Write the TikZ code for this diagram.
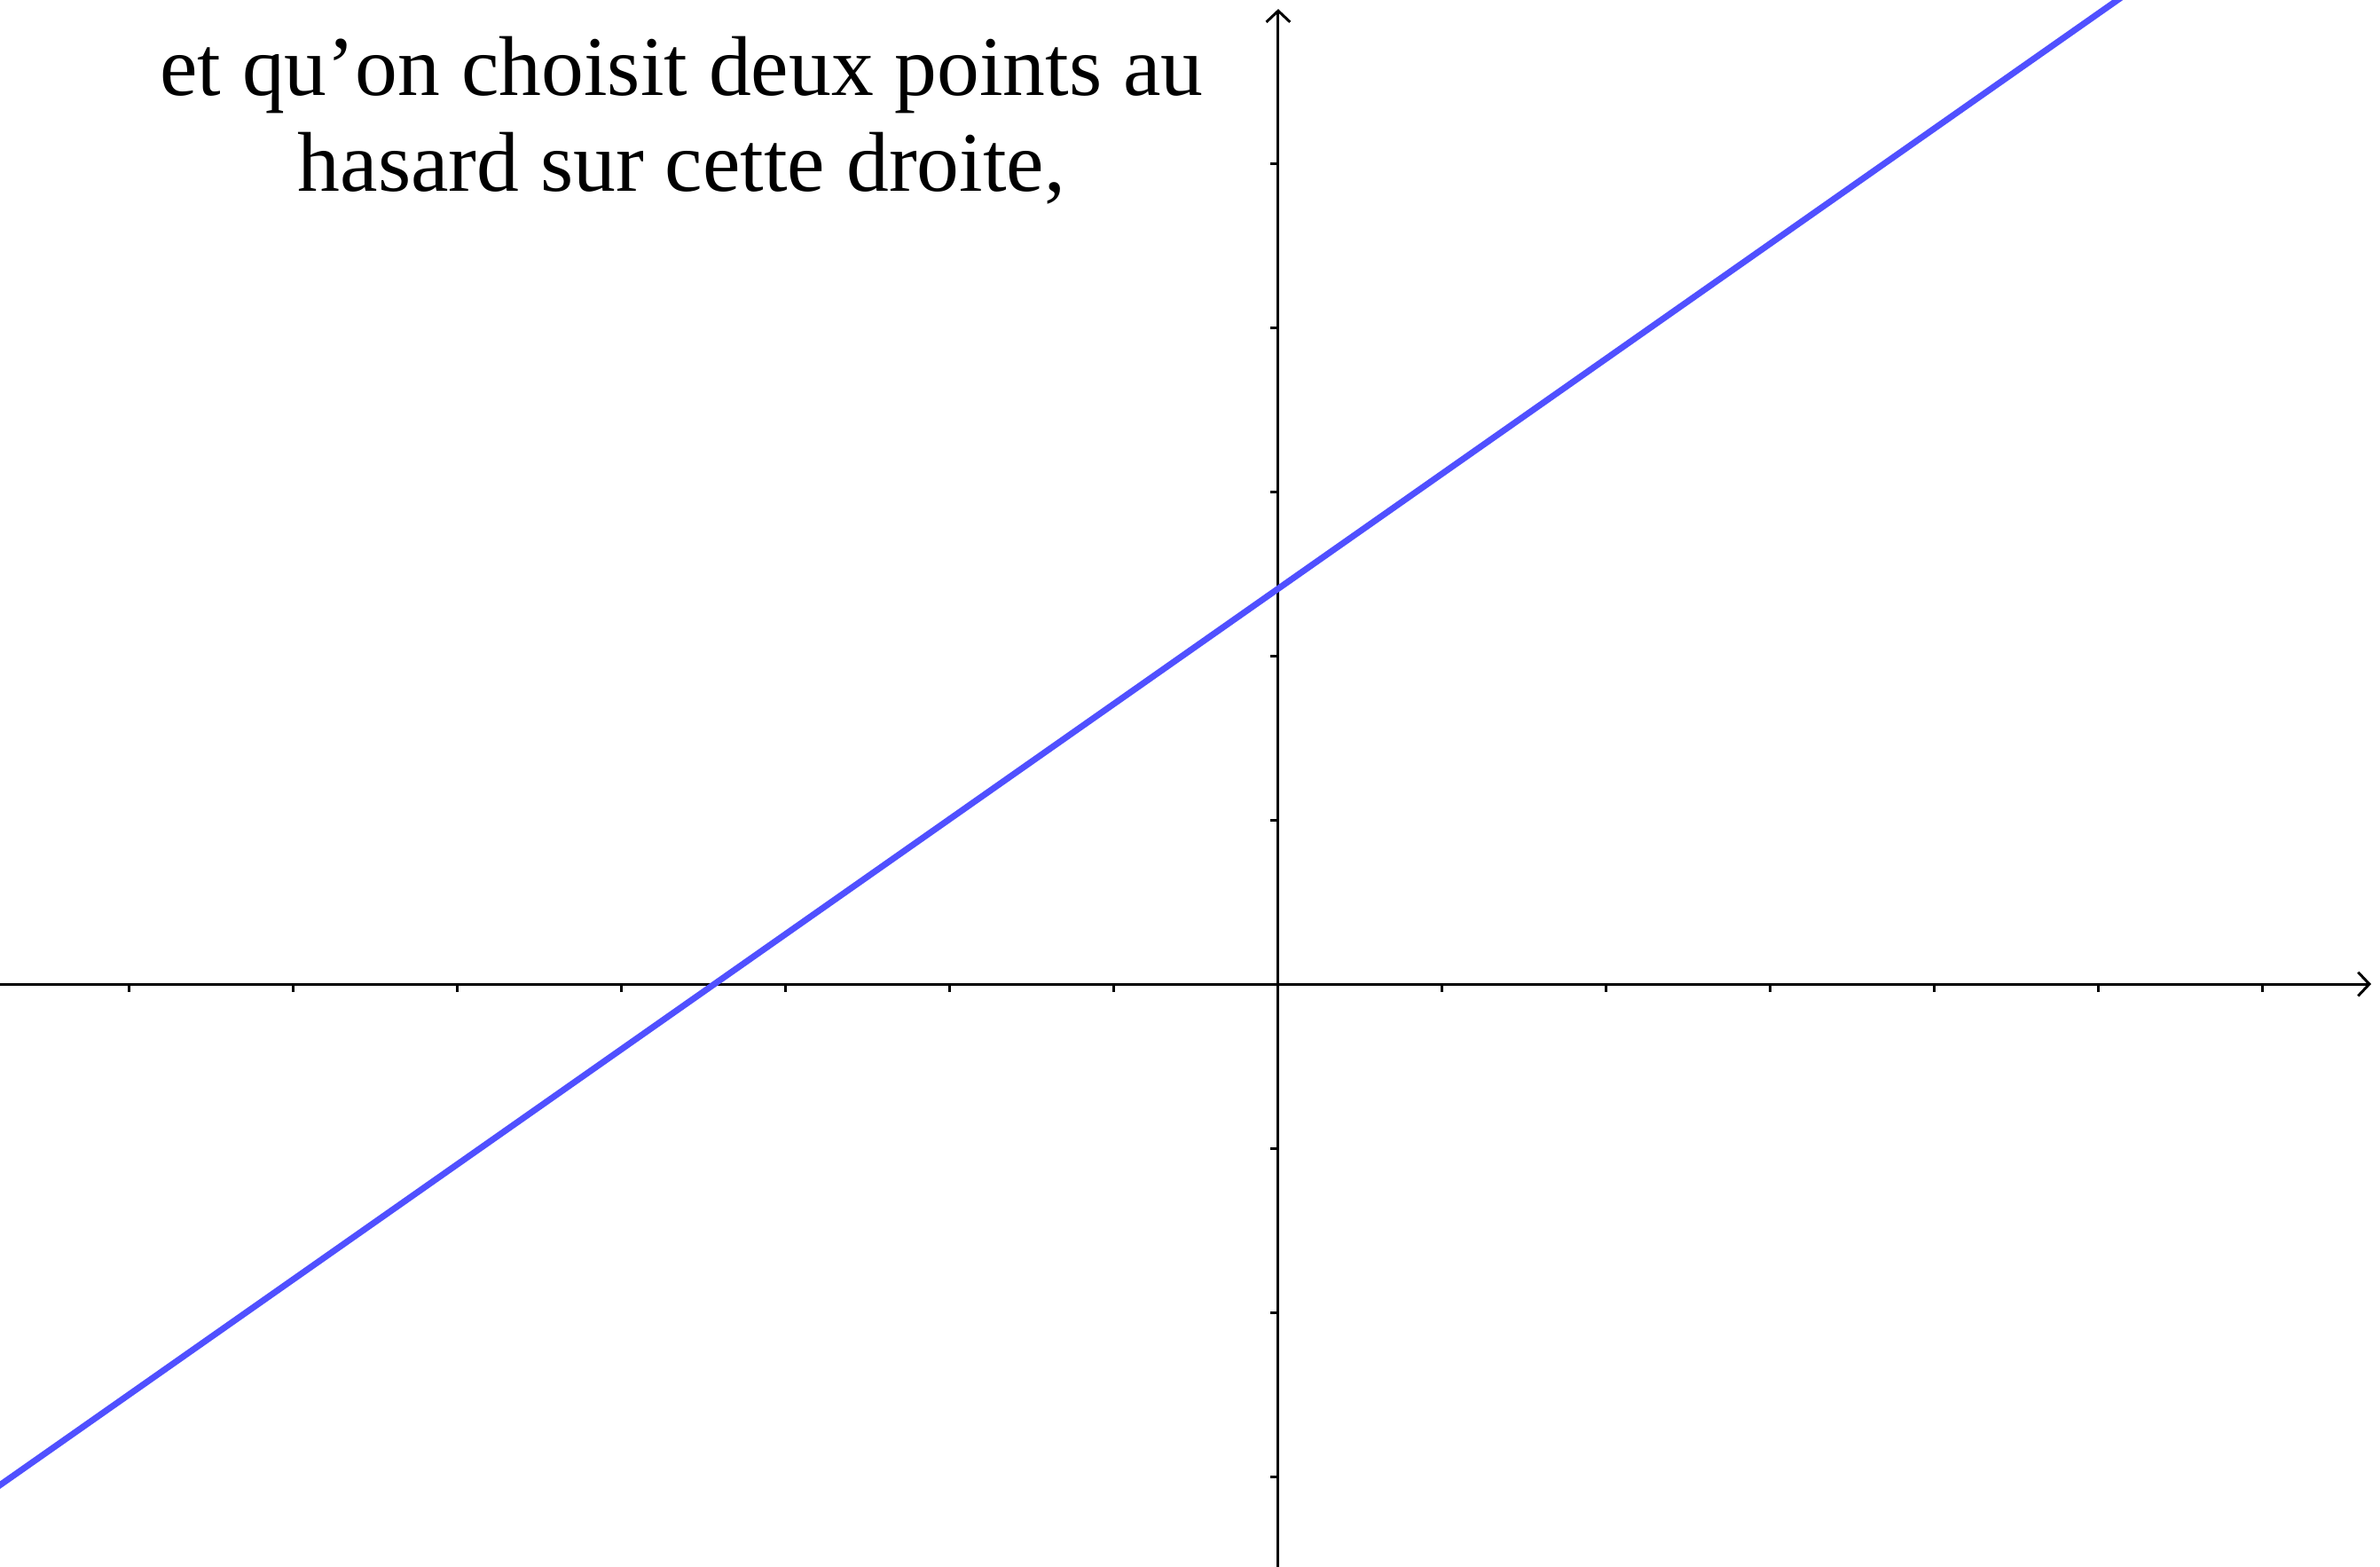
\documentclass[tikz,border=0pt]{standalone}
\usepackage{fontspec}
\setmainfont{Liberation Serif}
\usetikzlibrary{arrows.meta}
\begin{document}
\begin{tikzpicture}[x=1.85cm,y=1.85cm,
  axis/.style={line width=0.85pt,-{Straight Barb[length=3.6pt,width=7.6pt,line width=0.85pt]}},
  tick/.style={line width=0.85pt},
  droite/.style={line width=2pt,color={rgb,255:red,80;green,80;blue,255}},
  caption/.style={font=\fontsize{27.2}{30.7}\selectfont,align=center,inner sep=0pt}]
\useasboundingbox (-7.789,-3.551) rectangle (6.714,5.995);
\coordinate (xs) at (-7.789,0);
\coordinate (xe) at (6.66,0);
\coordinate (ys) at (0,-3.551);
\coordinate (ye) at (0,5.94);
\draw[axis] (xs) -- (xe);
\draw[axis] (ys) -- (ye);
\foreach \i in {-7,...,-1,1,2,...,6} \draw[tick] (\i,0) -- (\i,-0.05);
\foreach \j in {-3,...,-1,1,2,...,5} \draw[tick] (0,\j) -- (-0.05,\j);
\clip (-7.789,-3.551) rectangle (6.714,5.995);
\coordinate (la) at (-8.0,-3.2);
\coordinate (lb) at (6.5,6.966);
\draw[droite] (la) -- (lb);
\node[caption,anchor=base] (t1) at (-3.635,5.415) {et qu’on choisit deux points au};
\node[caption,anchor=base] (t2) at (-3.635,4.83) {hasard sur cette droite,};
\end{tikzpicture}
\end{document}
